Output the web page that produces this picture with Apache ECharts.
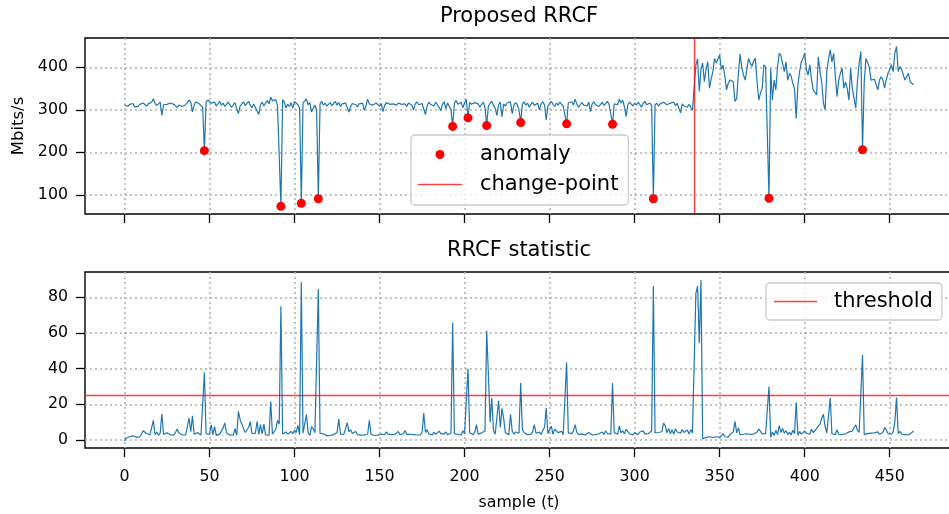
<!DOCTYPE html>
<html>
<head>
<meta charset="utf-8">
<script src="https://cdn.jsdelivr.net/npm/echarts@6/dist/echarts.min.js"></script>
<style>
  html, body { margin: 0; padding: 0; background: #ffffff; }
  #chart { width: 949px; height: 514px; }
</style>
</head>
<body>
<div id="chart"></div>
<script>
// Link throughput (Mbits/s), one value per sample t = 0..464
const traffic = [
  312, 310, 308, 313, 309, 315, 307, 311, 308, 313,
  310, 316, 312, 309, 314, 311, 318, 326, 315, 310,
  314, 318, 287, 312, 315, 313, 311, 316, 317, 313,
  309, 306, 311, 314, 308, 305, 312, 316, 323, 318,
  295, 312, 319, 316, 314, 311, 306, 204, 318, 323,
  320, 316, 312, 318, 309, 314, 320, 311, 316, 308,
  313, 318, 314, 306, 312, 317, 303, 291, 309, 314,
  319, 310, 315, 320, 311, 305, 314, 318, 297, 289,
  312, 318, 309, 316, 322, 314, 330, 321, 318, 324,
  310, 306, 73, 324, 318, 305, 313, 308, 317, 304,
  320, 318, 312, 305, 80, 316, 320, 326, 312, 317,
  295, 304, 311, 301, 91, 314, 320, 311, 316, 309,
  313, 317, 309, 315, 320, 311, 317, 308, 314, 310,
  316, 312, 295, 308, 315, 318, 312, 307, 314, 310,
  316, 299, 309, 325, 314, 318, 311, 309, 316, 313,
  308, 315, 296, 311, 317, 320, 313, 309, 314, 318,
  311, 316, 320, 313, 309, 314, 308, 316, 319, 311,
  300, 314, 319, 312, 308, 315, 311, 289, 310, 318,
  313, 316, 309, 318, 312, 306, 298, 314, 319, 303,
  316, 320, 300, 261, 315, 322, 313, 310, 318, 305,
  316, 325, 281, 318, 313, 309, 317, 321, 314, 306,
  313, 318, 305, 263, 309, 315, 320, 311, 304, 287,
  312, 318, 284, 314, 309, 316, 313, 319, 291, 311,
  317, 312, 300, 270, 314, 319, 311, 316, 306, 313,
  318, 310, 307, 316, 300, 314, 319, 312, 276, 309,
  315, 320, 313, 308, 316, 311, 318, 314, 309, 312,
  267, 316, 313, 319, 311, 325, 314, 306, 312, 317,
  311, 315, 309, 318, 296, 314, 319, 312, 316, 308,
  313, 318, 310, 315, 320, 312, 309, 266, 314, 318,
  312, 325, 316, 323, 307, 284, 312, 318, 314, 309,
  316, 311, 318, 313, 306, 315, 320, 312, 309, 316,
  310, 91, 311, 316, 309, 314, 312, 318, 321, 312,
  308, 316, 313, 318, 310, 315, 311, 293, 314, 309,
  311, 306, 313, 311, 299,
  302, 405, 420, 343, 395, 410, 366, 395, 413, 351,
  372, 390, 421, 410, 413, 429, 395, 405, 380, 347,
  362, 370, 372, 366, 320, 327, 385, 431, 400, 382,
  370, 395, 421, 410, 402, 415, 421, 366, 323, 340,
  351, 406, 400, 398, 92, 398, 323, 370, 347, 400,
  433, 428, 431, 390, 413, 370, 386, 380, 363, 350,
  280, 359, 390, 413, 421, 433, 395, 382, 406, 370,
  347, 345, 335, 425, 390, 366, 316, 300, 390, 420,
  441, 413, 433, 380, 331, 370, 386, 398, 351, 366,
  350, 323, 398, 350, 327, 304, 366, 410, 437, 206,
  366, 421, 425, 400, 370, 374, 372, 360, 347, 370,
  378, 370, 351, 372, 386, 395, 406, 390, 433, 449,
  390, 402, 395, 382, 370, 370, 386, 366, 362, 359
];

// RRCF anomaly score (collusive displacement) per sample
const rrcfScore = [
  -0.5, 1.0, 1.6, 1.8, 2.0, 2.4, 2.1, 1.5, 2.2, 1.7,
  2.5, 5.2, 4.1, 3.6, 3.2, 2.8, 3.4, 11.0, 3.0, 4.5,
  2.6, 3.8, 14.7, 3.1, 2.5, 4.0, 3.2, 2.9, 3.5, 2.7,
  4.2, 6.1, 4.0, 3.1, 2.8, 3.6, 2.9, 7.5, 12.3, 4.6,
  13.6, 3.2, 2.9, 4.1, 3.3, 2.8, 2.6, 38.0, 3.5, 2.9,
  3.1, 8.5, 3.0, 7.5, 2.6, 2.5, 3.3, 4.1, 6.8, 9.5,
  4.0, 3.2, 2.7, 3.5, 2.9, 6.3, 2.6, 16.0, 11.5, 10.8,
  6.5, 4.2, 3.1, 7.0, 10.3, 3.5, 2.9, 3.8, 10.5, 3.1,
  8.6, 3.4, 8.9, 2.8, 3.9, 2.7, 21.6, 3.3, 3.6, 6.0,
  11.0, 8.8, 75.0, 3.4, 3.0, 4.5, 3.2, 2.9, 4.8, 3.6,
  5.5, 4.2, 8.2, 3.0, 88.4, 3.8, 3.2, 14.2, 4.0, 2.6,
  7.5, 6.3, 4.1, 3.0, 84.6, 3.7, 3.2, 3.5, 2.8, 2.3,
  3.1, 2.6, 3.4, 3.0, 2.8, 4.2, 11.7, 3.3, 4.0, 3.1,
  2.8, 9.7, 4.5, 5.8, 3.6, 3.2, 4.8, 3.0, 3.4, 2.7,
  3.1, 2.9, 3.6, 3.2, 11.0, 3.1, 2.8, 2.5, 3.0, 2.7,
  2.9, 3.2, 2.6, 3.0, 4.5, 3.3, 2.7, 3.0, 4.0, 3.1,
  2.8, 4.8, 3.0, 2.9, 3.5, 5.3, 3.1, 2.8, 3.2, 2.9,
  3.0, 3.3, 2.8, 3.1, 2.9, 4.1, 15.1, 4.2, 5.8, 3.4,
  3.0, 2.8, 4.4, 3.1, 3.5, 5.0, 3.6, 2.8, 3.3, 4.5,
  3.0, 2.9, 3.8, 65.8, 3.4, 4.0, 3.2, 3.6, 2.9, 5.2,
  3.5, 2.6, 39.9, 4.0, 3.5, 3.0, 4.2, 8.6, 3.3, 3.0,
  4.0, 3.5, 5.0, 61.3, 37.0, 10.0, 23.5, 5.5, 3.2, 4.1,
  22.0, 7.0, 17.7, 12.0, 4.0, 3.5, 3.0, 14.4, 5.0, 3.2,
  4.5, 5.0, 3.8, 32.0, 5.8, 4.2, 3.5, 3.0, 4.0, 3.1,
  4.5, 8.6, 3.8, 3.2, 4.4, 3.0, 5.5, 7.0, 17.9, 3.6,
  4.6, 7.8, 3.2, 6.0, 5.2, 4.1, 3.4, 4.9, 2.9, 3.5,
  43.4, 4.0, 3.1, 3.6, 5.0, 8.6, 4.2, 3.0, 2.8, 3.4,
  3.0, 2.8, 3.5, 4.2, 3.1, 2.9, 3.6, 3.0, 2.7, 3.5,
  3.2, 4.5, 3.0, 5.2, 3.6, 4.0, 3.3, 31.9, 4.1, 3.5,
  3.2, 7.7, 4.0, 5.2, 3.4, 6.0, 4.8, 3.5, 3.9, 2.9,
  4.2, 3.6, 3.0, 4.5, 3.8, 5.1, 3.4, 3.0, 3.5, 4.1,
  5.0, 86.3, 4.0, 3.5, 4.2, 3.8, 4.6, 9.5, 8.0, 4.0,
  6.5, 3.5, 5.8, 3.2, 6.3, 4.5, 5.5, 3.8, 5.9, 4.2,
  3.5, 5.6, 3.3, 5.8, 3.9,
  3.0, 82.2, 86.3, 54.2, 89.7,
  0.5, 1.2, 1.5, 1.0, 1.8, 2.0, 1.4, 2.4, 1.8, 2.6,
  1.5, 2.2, 3.5, 1.8, 2.4, 1.6, 3.0, 2.8, 4.5, 10.4,
  4.0, 6.8, 3.0, 2.5, 3.2, 2.8, 3.5, 2.6, 3.1, 2.9,
  3.3, 3.0, 4.5, 6.2, 5.8, 3.4, 2.8, 3.5, 4.2, 30.0,
  1.5, 4.5, 2.5, 5.4, 3.0, 8.0, 4.2, 6.5, 3.8, 5.2,
  3.0, 4.4, 2.8, 5.5, 3.5, 21.0, 2.5, 4.8, 3.3, 2.5,
  5.0, 3.8, 4.5, 3.2, 6.0, 4.2, 3.3, 6.4, 5.5, 9.0,
  12.0, 14.4, 7.5, 4.0, 5.0, 23.5, 3.5, 4.2, 3.0, 5.8,
  3.2, 3.8, 3.0, 4.1, 3.5, 3.6, 4.5, 3.8, 5.0, 4.2,
  8.5, 5.5, 4.2, 3.5, 47.7, 3.0, 2.8, 3.6, 3.2, 3.8,
  3.5, 4.0, 3.4, 4.5, 3.2, 3.8, 4.2, 7.0, 5.5, 3.6,
  4.0, 3.2, 4.5, 10.0, 23.8, 3.5, 4.8, 3.2, 4.0, 3.0,
  3.5, 2.8, 3.6, 4.2, 5.0
];

// Samples flagged as anomalous by the detector
const anomalyIdx = [47, 92, 104, 114, 193, 202, 213, 233, 260, 287, 311, 379, 434];

// Detected change-point and score threshold
const changePoint = 335;
const threshold = 25;

// Tick positions
const sampleTicks = [0, 50, 100, 150, 200, 250, 300, 350, 400, 450];
const trafficTicks = [100, 200, 300, 400];
const scoreTicks = [0, 20, 40, 60, 80];

const FONT = 'DejaVu Sans';
const BLUE = '#1f77b4';
const RED_LINE = 'rgba(255,0,0,0.75)';

const gridLineStyle = { color: '#b0b0b0', width: 1.5, type: [2, 3] };
const tickStyle = { color: '#000000', width: 1.3 };

function sampleAxis(gridIndex, withLabels) {
  return {
    type: 'value',
    gridIndex: gridIndex,
    min: -23.2,
    max: 487.2,
    axisLine: { show: false, onZero: false },
    axisTick: { show: true, inside: false, length: 9, lineStyle: tickStyle, customValues: sampleTicks },
    axisLabel: {
      show: withLabels, customValues: sampleTicks, margin: 21,
      color: '#000000', fontSize: 15.8, fontFamily: FONT
    },
    splitLine: { show: true, lineStyle: gridLineStyle },
    name: withLabels ? 'sample (t)' : '',
    nameLocation: 'middle',
    nameGap: 47,
    nameTextStyle: { color: '#000000', fontSize: 15.8, fontFamily: FONT }
  };
}

function valueAxis(gridIndex, min, max, ticks, name) {
  return {
    type: 'value',
    gridIndex: gridIndex,
    min: min,
    max: max,
    axisLine: { show: false, onZero: false },
    axisTick: { show: true, inside: false, length: 9, lineStyle: tickStyle, customValues: ticks },
    axisLabel: {
      customValues: ticks, margin: 17,
      color: '#000000', fontSize: 15.8, fontFamily: FONT
    },
    splitLine: { show: true, lineStyle: gridLineStyle },
    name: name,
    nameLocation: 'middle',
    nameGap: 58,
    nameRotate: 90,
    nameTextStyle: { color: '#000000', fontSize: 16.5, fontFamily: FONT }
  };
}

const legendBase = {
  orient: 'vertical',
  backgroundColor: 'rgba(255,255,255,0.8)',
  borderColor: '#cccccc',
  borderWidth: 1.3,
  borderRadius: 4,
  itemHeight: 9,
  itemGap: 9,
  textStyle: { color: '#000000', fontSize: 21, fontFamily: FONT, padding: [0, 0, 0, 13] },
  selectedMode: false
};

const gridBase = {
  show: true,
  borderColor: '#000000',
  borderWidth: 1.4,
  backgroundColor: '#ffffff',
  containLabel: false,
  outerBoundsMode: 'none'
};

const chart = echarts.init(document.getElementById('chart'), null, { renderer: 'canvas' });

chart.setOption({
  animation: false,
  backgroundColor: '#ffffff',
  title: [
    {
      text: 'Proposed RRCF', left: 519, top: 6, textAlign: 'center', padding: 0,
      textStyle: { fontSize: 21, fontWeight: 'normal', color: '#000000', fontFamily: FONT }
    },
    {
      text: 'RRCF statistic', left: 519, top: 240, textAlign: 'center', padding: 0,
      textStyle: { fontSize: 21, fontWeight: 'normal', color: '#000000', fontFamily: FONT }
    }
  ],
  grid: [
    Object.assign({ left: 85, top: 38, width: 868, height: 176 }, gridBase),
    Object.assign({ left: 85, top: 272, width: 868, height: 176 }, gridBase)
  ],
  xAxis: [sampleAxis(0, false), sampleAxis(1, true)],
  yAxis: [
    valueAxis(0, 55, 469, trafficTicks, 'Mbits/s'),
    valueAxis(1, -4.5, 94.2, scoreTicks, '')
  ],
  legend: [
    Object.assign({}, legendBase, {
      left: 411, top: 135,
      padding: [9, 10, 10, 7],
      itemWidth: 44,
      data: [
        { name: 'anomaly', icon: 'circle' },
        { name: 'change-point', icon: 'path://M0,0H44V1.3H0Z' }
      ]
    }),
    Object.assign({}, legendBase, {
      left: 766, top: 283,
      padding: [8, 9, 8, 8],
      itemWidth: 43,
      textStyle: { color: '#000000', fontSize: 21, fontFamily: FONT, padding: [0, 0, 0, 12] },
      data: [{ name: 'threshold', icon: 'path://M0,0H43V1.3H0Z' }]
    })
  ],
  series: [
    {
      name: 'traffic', type: 'line', xAxisIndex: 0, yAxisIndex: 0,
      data: traffic.map((v, i) => [i, v]),
      showSymbol: false, symbol: 'none',
      lineStyle: { color: BLUE, width: 1.2 },
      itemStyle: { color: BLUE },
      z: 3
    },
    {
      name: 'change-point', type: 'line', xAxisIndex: 0, yAxisIndex: 0,
      data: [],
      itemStyle: { color: RED_LINE },
      lineStyle: { color: RED_LINE },
      markLine: {
        silent: true, symbol: 'none', label: { show: false },
        lineStyle: { color: RED_LINE, width: 1.4, type: 'solid' },
        data: [{ xAxis: changePoint }]
      },
      z: 4
    },
    {
      name: 'anomaly', type: 'scatter', xAxisIndex: 0, yAxisIndex: 0,
      data: anomalyIdx.map(i => [i, traffic[i]]),
      symbol: 'circle', symbolSize: 9,
      itemStyle: { color: '#ff0000', opacity: 1 },
      z: 5
    },
    {
      name: 'score', type: 'line', xAxisIndex: 1, yAxisIndex: 1,
      data: rrcfScore.map((v, i) => [i, v]),
      showSymbol: false, symbol: 'none',
      lineStyle: { color: BLUE, width: 1.2 },
      itemStyle: { color: BLUE },
      z: 3
    },
    {
      name: 'threshold', type: 'line', xAxisIndex: 1, yAxisIndex: 1,
      data: [],
      itemStyle: { color: RED_LINE },
      lineStyle: { color: RED_LINE },
      markLine: {
        silent: true, symbol: 'none', label: { show: false },
        lineStyle: { color: RED_LINE, width: 1.4, type: 'solid' },
        data: [{ yAxis: threshold }]
      },
      z: 4
    }
  ]
});
</script>
</body>
</html>
